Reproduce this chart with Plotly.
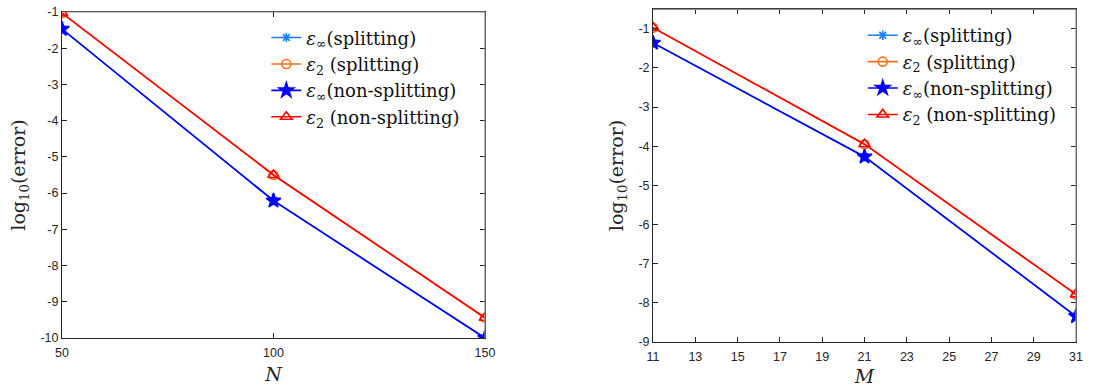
import plotly.graph_objects as go

# Left panel data (N)
N_vals = [50, 100, 150]
einf_split_N = [-1.47, -6.21, -10.0]
e2_split_N = [-1.03, -5.50, -9.44]
einf_nonsplit_N = [-1.47, -6.21, -10.0]
e2_nonsplit_N = [-1.03, -5.50, -9.44]
N_ticks = [50, 100, 150]
N_yticks = [-10, -9, -8, -7, -6, -5, -4, -3, -2, -1]

# Right panel data (M)
M_vals = [11, 21, 31]
einf_split_M = [-1.36, -4.27, -8.35]
e2_split_M = [-0.97, -3.95, -7.79]
einf_nonsplit_M = [-1.36, -4.27, -8.35]
e2_nonsplit_M = [-0.97, -3.95, -7.79]
M_ticks = [11, 13, 15, 17, 19, 21, 23, 25, 27, 29, 31]
M_yticks = [-9, -8, -7, -6, -5, -4, -3, -2, -1]

names = ["<i>ε</i><sub>∞</sub>(splitting)",
         "<i>ε</i><sub>2</sub> (splitting)",
         "<i>ε</i><sub>∞</sub>(non-splitting)",
         "<i>ε</i><sub>2</sub> (non-splitting)"]
colors = ["#1a80ff", "#ff7019", "#0000ff", "#ff0000"]
symbols = ["asterisk-open", "circle-open", "star", "triangle-up-open"]
sizes = [8, 9, 11, 10]

serif = "DejaVu Serif"
sans = "Liberation Sans"

fig = go.Figure()

def add_panel(x, ys, xa, ya, leg):
    for i, y in enumerate(ys):
        fig.add_trace(go.Scatter(
            x=x, y=y, mode="lines+markers", name=names[i],
            xaxis=xa, yaxis=ya, legend=leg,
            line=dict(color=colors[i], width=1.6),
            marker=dict(symbol=symbols[i], size=sizes[i], color=colors[i],
                        line=dict(color=colors[i], width=1.6)),
        ))

add_panel(N_vals, [einf_split_N, e2_split_N, einf_nonsplit_N, e2_nonsplit_N], "x", "y", "legend")
add_panel(M_vals, [einf_split_M, e2_split_M, einf_nonsplit_M, e2_nonsplit_M], "x2", "y2", "legend2")

def axis(**kw):
    d = dict(showline=True, linecolor="#262626", linewidth=1, mirror="ticks",
             ticks="inside", ticklen=5, tickcolor="#262626", showgrid=False,
             zeroline=False, automargin=False,
             tickfont=dict(family=sans, size=12.5, color="#262626"))
    d.update(kw)
    return d

def ttl(text, standoff):
    return dict(text=text, font=dict(family=serif, size=19, color="#262626"), standoff=standoff)

leg_font = dict(family=serif, size=18, color="#111111")

fig.update_layout(
    width=1119, height=387,
    margin=dict(l=0, r=0, t=0, b=0),
    plot_bgcolor="white", paper_bgcolor="white",
    font=dict(family=serif, size=18, color="#111111"),
    xaxis=axis(domain=[0.0554, 0.4334], range=[50, 150], tickvals=N_ticks,
               ticktext=[str(v) for v in N_ticks], title=ttl("<i>N</i>", 8), anchor="y",
               ticklabelstandoff=3),
    yaxis=axis(domain=[0.1266, 0.969], range=[-10, -1], tickvals=N_yticks,
               ticktext=[str(v) for v in N_yticks], title=ttl("log<sub>10</sub>(error)", 9), anchor="x"),
    xaxis2=axis(domain=[0.5836, 0.9616], range=[11, 31], tickvals=M_ticks,
                ticktext=[str(v) for v in M_ticks], title=ttl("<i>M</i>", 6), anchor="y2",
                ticklabelstandoff=3),
    yaxis2=axis(domain=[0.117, 0.976], range=[-9, -0.5], tickvals=M_yticks,
                ticktext=[str(v) for v in M_yticks], title=ttl("log<sub>10</sub>(error)", 9), anchor="x2"),
    legend=dict(x=0.238, y=0.95, xanchor="left", yanchor="top",
                bgcolor="rgba(255,255,255,0)", borderwidth=0, tracegroupgap=0,
                font=leg_font),
    legend2=dict(x=0.771, y=0.956, xanchor="left", yanchor="top",
                 bgcolor="rgba(255,255,255,0)", borderwidth=0, tracegroupgap=0,
                 font=leg_font),
    showlegend=True,
)

# grey top/right box lines
for xr, yr in [("x domain", "y domain"), ("x2 domain", "y2 domain")]:
    fig.add_shape(type="line", xref=xr, yref=yr, x0=0, x1=1, y0=1, y1=1,
                  line=dict(color="#8c8c8c", width=1.2), layer="above")
    fig.add_shape(type="line", xref=xr, yref=yr, x0=1, x1=1, y0=0, y1=1,
                  line=dict(color="#8c8c8c", width=1.2), layer="above")

fig.write_html("out.html")
